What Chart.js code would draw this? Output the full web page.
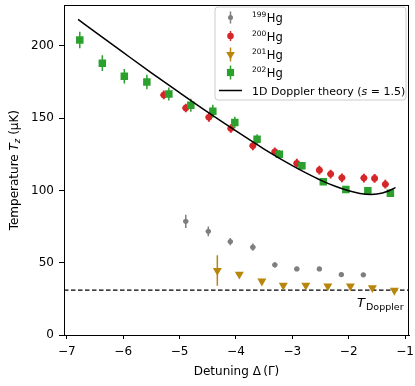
<!DOCTYPE html>
<html><head><meta charset="utf-8">
<script src="https://cdn.jsdelivr.net/npm/chart.js@4"></script>
<style>html,body{margin:0;padding:0;background:#fff}#wrap{width:415px;height:386px}</style>
</head><body><div id="wrap"><canvas id="c" width="415" height="386"></canvas></div>
<script>
// ---- data ----
const hg199X = [-4.89, -4.49, -4.10, -3.70, -3.31, -2.92, -2.52, -2.13, -1.74];
const hg199T = [78.6, 71.7, 64.6, 60.7, 48.5, 45.7, 45.7, 41.8, 41.6];
const hg199Err = [4.6, 3.4, 2.5, 2.5, 1.8, 1.5, 1.5, 1.5, 1.5];

const hg200X = [-5.28, -4.89, -4.48, -4.09, -3.70, -3.31, -2.92, -2.52, -2.32, -2.12, -1.73, -1.54, -1.35];
const hg200T = [166, 157, 150.5, 142.8, 130.8, 126.7, 118.8, 114, 111.3, 108.7, 108.5, 108.3, 104.3];
const hg200Err = [3, 3, 3, 3, 3, 3, 3, 3, 3, 3, 3, 3, 3];

const hg201X = [-4.33, -3.94, -3.54, -3.16, -2.76, -2.37, -1.97, -1.58, -1.19];
const hg201T = [44.6, 41.9, 37.2, 34.3, 34.3, 33.8, 33.8, 32.6, 30.8];
const hg201Err = [10.5, 1, 1, 1, 1, 1, 1, 1, 1];

const hg202X = [-6.77, -6.37, -5.98, -5.58, -5.19, -4.80, -4.41, -4.02, -3.625, -3.23, -2.83, -2.45, -2.05, -1.66, -1.26];
const hg202T = [204, 188, 179, 175, 166.7, 158.8, 154.7, 146.9, 135.4, 125, 117, 106, 100.7, 99.8, 98.1];
const hg202Err = [5.7, 5.5, 5, 5, 4.5, 4.5, 4.5, 4, 3.5, 3, 2.5, 2, 2, 2, 2];

const theoryX = [-6.8, -6.5, -6.0, -5.5, -5.0, -4.5, -4.0, -3.5, -3.0, -2.75, -2.5, -2.25, -2.0, -1.8, -1.6, -1.4, -1.2, -1.17];
const theoryT = [218.2, 209.6, 195.4, 181.3, 167.6, 154.1, 141.1, 128.6, 117.1, 111.9, 107.1, 103.0, 99.7, 97.9, 97.2, 98.2, 101.3, 102.1];

const tDoppler = 31;
const xRange = [-7.05, -0.93];
const yRange = [0, 228];
const xTickValues = [-7, -6, -5, -4, -3, -2, -1];
const xTickLabels = ['\u22127', '\u22126', '\u22125', '\u22124', '\u22123', '\u22122', '\u22121'];
const yTickValues = [0, 50, 100, 150, 200];
const yTickLabels = ['0', '50', '100', '150', '200'];

const C199 = '#7f7f7f', C200 = '#d62728', C201 = '#b8860b', C202 = '#2ca02c';
const FONT = '"DejaVu Sans", sans-serif';

function pts(xs, ys) { return xs.map((x, i) => ({x: x, y: ys[i]})); }

const errInfo = {
  0: {xs: hg199X, ys: hg199T, e: hg199Err, xe: 0.045, c: C199, lw: 1.5},
  1: {xs: hg200X, ys: hg200T, e: hg200Err, xe: 0.06, c: C200, lw: 2},
  2: {xs: hg201X, ys: hg201T, e: hg201Err, xe: 0, c: C201, lw: 1.5},
  3: {xs: hg202X, ys: hg202T, e: hg202Err, xe: 0, c: C202, lw: 1.5}
};

const errPlugin = {
  id: 'errbars',
  beforeDatasetDraw(chart, args) {
    const info = errInfo[args.index];
    if (!info) return;
    const ctx = chart.ctx, sx = chart.scales.x, sy = chart.scales.y;
    ctx.save();
    ctx.strokeStyle = info.c; ctx.lineWidth = info.lw;
    ctx.beginPath();
    info.xs.forEach((x, i) => {
      const px = sx.getPixelForValue(x), py = sy.getPixelForValue(info.ys[i]);
      ctx.moveTo(px, sy.getPixelForValue(info.ys[i] - info.e[i]));
      ctx.lineTo(px, sy.getPixelForValue(info.ys[i] + info.e[i]));
      if (info.xe) {
        ctx.moveTo(sx.getPixelForValue(x - info.xe), py);
        ctx.lineTo(sx.getPixelForValue(x + info.xe), py);
      }
    });
    ctx.stroke();
    ctx.restore();
  }
};

function marker(ctx, type, x, y, r, color) {
  ctx.fillStyle = color;
  ctx.beginPath();
  if (type === 'circle') ctx.arc(x, y, r, 0, Math.PI * 2);
  else if (type === 'rect') ctx.rect(x - r, y - r, 2 * r, 2 * r);
  else if (type === 'tri') {
    ctx.moveTo(x, y + r); ctx.lineTo(x - r * 0.866, y - r / 2); ctx.lineTo(x + r * 0.866, y - r / 2); ctx.closePath();
  }
  ctx.fill();
}

const decoPlugin = {
  id: 'deco',
  afterDraw(chart) {
    const ctx = chart.ctx, a = chart.chartArea;
    ctx.save();
    // frame
    ctx.strokeStyle = '#000'; ctx.lineWidth = 1;
    ctx.strokeRect(Math.round(a.left) + 0.5, Math.round(a.top) + 0.5, Math.round(a.right - a.left) - 1, Math.round(a.bottom - a.top));

    ctx.fillStyle = '#000';
    // x title
    ctx.font = '12px ' + FONT;
    ctx.textAlign = 'center'; ctx.textBaseline = 'alphabetic';
    ctx.fillText('Detuning \u0394\u2009(\u0393)', (a.left + a.right) / 2, 375);

    // y title (rotated) with italic T and subscript z
    ctx.save();
    ctx.translate(18, (a.top + a.bottom) / 2);
    ctx.rotate(-Math.PI / 2);
    const segs = [
      {t: 'Temperature ', f: '12px ' + FONT, dy: 0},
      {t: 'T', f: 'italic 12px ' + FONT, dy: 0},
      {t: 'z', f: 'italic 8.5px ' + FONT, dy: 2},
      {t: ' (\u03bcK)', f: '12px ' + FONT, dy: 0}
    ];
    let tw = 0;
    segs.forEach(s => { ctx.font = s.f; s.w = ctx.measureText(s.t).width; tw += s.w; });
    let cx = -tw / 2;
    ctx.textAlign = 'left';
    segs.forEach(s => { ctx.font = s.f; ctx.fillText(s.t, cx, s.dy); cx += s.w; });
    ctx.restore();

    // T_Doppler label
    ctx.textAlign = 'left';
    ctx.font = 'italic 13px ' + FONT;
    ctx.fillText('T', 357, 306.5);
    ctx.font = '9.5px ' + FONT;
    ctx.fillText('Doppler', 366, 309.5);

    // legend
    const lx = 215, ly = 7, lw = 191, lh = 93, rr = 3;
    ctx.beginPath();
    ctx.moveTo(lx + rr, ly); ctx.lineTo(lx + lw - rr, ly); ctx.quadraticCurveTo(lx + lw, ly, lx + lw, ly + rr);
    ctx.lineTo(lx + lw, ly + lh - rr); ctx.quadraticCurveTo(lx + lw, ly + lh, lx + lw - rr, ly + lh);
    ctx.lineTo(lx + rr, ly + lh); ctx.quadraticCurveTo(lx, ly + lh, lx, ly + lh - rr);
    ctx.lineTo(lx, ly + rr); ctx.quadraticCurveTo(lx, ly, lx + rr, ly);
    ctx.closePath();
    ctx.fillStyle = 'rgba(255,255,255,0.8)'; ctx.fill();
    ctx.strokeStyle = '#cccccc'; ctx.lineWidth = 1; ctx.stroke();

    const mx = 230.5, tx = 252;
    const rows = [17.5, 36, 54.5, 72.5, 90.5];
    const entries = [
      {sup: '199', c: C199, m: 'circle', r: 2.5, e: 6},
      {sup: '200', c: C200, m: 'circle', r: 3.3, e: 5},
      {sup: '201', c: C201, m: 'tri', r: 5, e: 7},
      {sup: '202', c: C202, m: 'rect', r: 3.6, e: 7}
    ];
    entries.forEach((en, i) => {
      const y = rows[i];
      ctx.strokeStyle = en.c; ctx.lineWidth = 1.5;
      ctx.beginPath(); ctx.moveTo(mx, y - en.e); ctx.lineTo(mx, y + en.e); ctx.stroke();
      marker(ctx, en.m, mx, y, en.r, en.c);
      ctx.fillStyle = '#000';
      ctx.font = '7.5px ' + FONT;
      ctx.fillText(en.sup, tx, y - 0.5);
      const sw = ctx.measureText(en.sup).width;
      ctx.font = '11.5px ' + FONT;
      ctx.fillText('Hg', tx + sw + 0.5, y + 4.5);
    });
    // theory entry
    const y5 = rows[4];
    ctx.strokeStyle = '#000'; ctx.lineWidth = 1.5;
    ctx.beginPath(); ctx.moveTo(219, y5); ctx.lineTo(242, y5); ctx.stroke();
    ctx.fillStyle = '#000';
    const tsegs = [
      {t: '1D Doppler theory (', f: '11px ' + FONT},
      {t: 's', f: 'italic 11px ' + FONT},
      {t: ' = 1.5)', f: '11px ' + FONT}
    ];
    let px = tx;
    tsegs.forEach(s => { ctx.font = s.f; ctx.fillText(s.t, px, y5 + 4); px += ctx.measureText(s.t).width; });
    ctx.restore();
  }
};

new Chart(document.getElementById('c'), {
  type: 'scatter',
  data: {
    datasets: [
      {label: '199Hg', data: pts(hg199X, hg199T), backgroundColor: C199, borderColor: C199, pointStyle: 'circle', pointRadius: 2.6, borderWidth: 0, order: 4},
      {label: '200Hg', data: pts(hg200X, hg200T), backgroundColor: C200, borderColor: C200, pointStyle: 'circle', pointRadius: 3.3, borderWidth: 0, order: 3},
      {label: '201Hg', data: pts(hg201X, hg201T), backgroundColor: C201, borderColor: C201, pointStyle: 'triangle', rotation: 180, pointRadius: 5.2, borderWidth: 0, order: 2},
      {label: '202Hg', data: pts(hg202X, hg202T), backgroundColor: C202, borderColor: C202, pointStyle: 'rect', pointRadius: 5.3, borderWidth: 0, order: 1},
      {label: 'theory', type: 'line', data: pts(theoryX, theoryT), borderColor: '#000', borderWidth: 1.5, pointRadius: 0, showLine: true, fill: false, cubicInterpolationMode: 'monotone', order: 0},
      {label: 'TDoppler', type: 'line', data: pts(xRange, [tDoppler, tDoppler]), borderColor: '#000', borderWidth: 1.2, borderDash: [4.5, 2.5], pointRadius: 0, showLine: true, fill: false, order: 5}
    ]
  },
  options: {
    responsive: false,
    devicePixelRatio: 1,
    animation: false,
    events: [],
    layout: {padding: {left: 0, right: 6, top: 1, bottom: 0}},
    plugins: {legend: {display: false}, tooltip: {enabled: false}, title: {display: false}},
    scales: {
      x: {
        type: 'linear', min: xRange[0], max: xRange[1],
        afterBuildTicks: s => { s.ticks = xTickValues.map(v => ({value: v})); },
        afterFit: s => { s.height = 51; s.paddingLeft = 0; s.paddingRight = 0; },
        ticks: {callback: v => xTickLabels[xTickValues.indexOf(v)], color: '#000', font: {family: FONT, size: 12}, padding: 6, maxRotation: 0, autoSkip: false},
        grid: {drawOnChartArea: false, drawTicks: true, tickLength: 4, tickColor: '#000'},
        border: {color: '#000', width: 1}
      },
      y: {
        type: 'linear', min: yRange[0], max: yRange[1],
        afterBuildTicks: s => { s.ticks = yTickValues.map(v => ({value: v})); },
        afterFit: s => { s.width = 64; s.paddingTop = 0; s.paddingBottom = 0; },
        ticks: {callback: v => yTickLabels[yTickValues.indexOf(v)], color: '#000', font: {family: FONT, size: 12}, padding: 5},
        grid: {drawOnChartArea: false, drawTicks: true, tickLength: 5, tickColor: '#000'},
        border: {color: '#000', width: 1}
      }
    }
  },
  plugins: [errPlugin, decoPlugin]
});
</script></body></html>
